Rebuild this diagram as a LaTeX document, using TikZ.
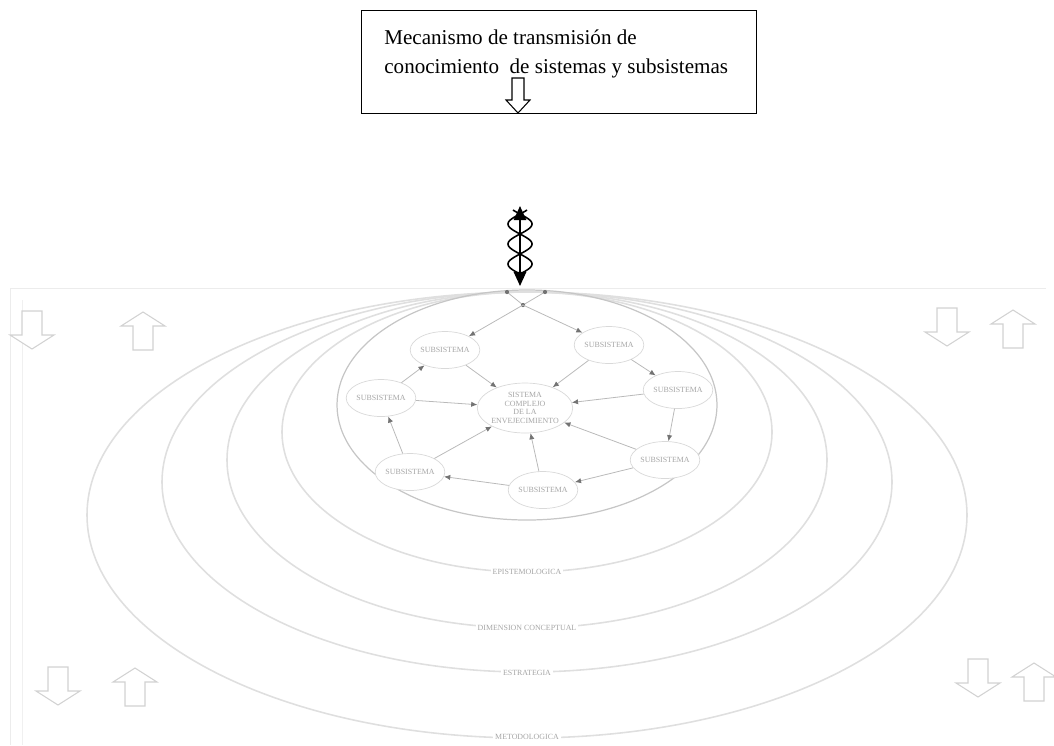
\documentclass[tikz,border=0pt]{standalone}
\usepackage{fontspec}
\setmainfont{Liberation Serif}
\usetikzlibrary{shapes.geometric,arrows.meta}

\tikzset{
  ring/.style={draw=gray!25, line width=0.9pt},
  ringlbl/.style={fill=white, inner sep=1pt, text=gray!70, font=\fontsize{4.5}{5}\selectfont},
  sub/.style={ellipse, draw=gray!30, fill=white, minimum width=1.28cm, minimum height=0.74cm,
    inner sep=0pt, align=center, text=gray!70, font=\fontsize{4.5}{5}\selectfont},
  flow/.style={draw=gray!55, line width=0.45pt, -{Latex[length=3.5pt,width=3pt,color=gray!90!black]}},
  hollow/.style={draw=gray!35, fill=white, line width=0.6pt},
  downarrow/.pic={\draw[hollow] (-10,-19) -- (10,-19) -- (10,5) -- (22,5) -- (0,19) -- (-22,5) -- (-10,5) -- cycle;},
  uparrow/.pic={\draw[hollow] (-10,19) -- (10,19) -- (10,-5) -- (22,-5) -- (0,-19) -- (-22,-5) -- (-10,-5) -- cycle;}
}

\begin{document}
\begin{tikzpicture}[x=0.02cm, y=-0.02cm]
  \useasboundingbox (0,0) rectangle (1054,745);

  \node[draw, line width=0.8pt, minimum width=7.9cm, minimum height=2.06cm, anchor=north west] (mech) at (361,10) {};
  \node[anchor=north west, align=left, inner sep=0pt, font=\fontsize{12}{16.5}\selectfont] (mechtext) at (384,29)
    {Mecanismo de transmisión de\\conocimiento\ \ de sistemas y subsistemas};
  \draw[line width=0.6pt, fill=white] (512,78) -- (524,78) -- (524,100) -- (530,100) -- (518,113) -- (506,100) -- (512,100) -- cycle;

  \coordinate (dnatop) at (520,206);
  \coordinate (dnabot) at (520,286);
  \draw[line width=1pt, {Triangle[length=8pt,width=7pt]}-{Triangle[length=8pt,width=7pt]}] (dnatop) -- (dnabot);
  \draw[line width=0.9pt, domain=-4:62, samples=90, smooth] plot ({520+12*sin(9*\x)},{214+\x});
  \draw[line width=0.9pt, domain=-4:62, samples=90, smooth] plot ({520-12*sin(9*\x)},{214+\x});

  \draw[draw=gray!15] (1046,288) -- (10,288) -- (10,745);
  \draw[draw=gray!12] (22,300) -- (22,745);

  \draw[ring] (527,515) ellipse [x radius=440, y radius=223];
  \draw[ring] (527,482) ellipse [x radius=365, y radius=190];
  \draw[ring] (527,460) ellipse [x radius=300, y radius=168];
  \draw[ring] (527,432) ellipse [x radius=245, y radius=140];
  \draw[draw=gray!45, line width=0.7pt] (527,405) ellipse [x radius=190, y radius=115];

  \node[ringlbl] (lbl1) at (527,572) {EPISTEMOLOGICA};
  \node[ringlbl] (lbl2) at (527,628) {DIMENSION CONCEPTUAL};
  \node[ringlbl] (lbl3) at (527,673) {ESTRATEGIA};
  \node[ringlbl] (lbl4) at (527,737) {METODOLOGICA};

  \pic at (32,330) {downarrow};
  \pic at (143,331) {uparrow};
  \pic at (947,327) {downarrow};
  \pic at (1013,329) {uparrow};
  \pic at (58,686) {downarrow};
  \pic at (135,687) {uparrow};
  \pic at (978,678) {downarrow};
  \pic at (1034,682) {uparrow};

  \node[sub] (s1) at (445,350) {SUBSISTEMA};
  \node[sub] (s2) at (609,345) {SUBSISTEMA};
  \node[sub] (s3) at (678,390) {SUBSISTEMA};
  \node[sub] (s4) at (381,398) {SUBSISTEMA};
  \node[sub, minimum width=1.8cm, minimum height=1cm] (core) at (525,408) {SISTEMA\\COMPLEJO\\DE LA\\ENVEJECIMIENTO};
  \node[sub] (s5) at (410,472) {SUBSISTEMA};
  \node[sub] (s6) at (543,490) {SUBSISTEMA};
  \node[sub] (s7) at (665,460) {SUBSISTEMA};

  \coordinate (hl) at (507,292);
  \coordinate (hr) at (545,292);
  \coordinate (hub) at (523,305);
  \draw[draw=gray!55, line width=0.45pt] (hl) -- (hub) -- (hr);
  \fill[gray!90!black] (hl) circle (1.2pt) (hr) circle (1.2pt) (hub) circle (1.2pt);

  \draw[flow] (hub) -- (s1);
  \draw[flow] (hub) -- (s2);
  \draw[flow] (s2) -- (s3);
  \draw[flow] (s3) -- (s7);
  \draw[flow] (s7) -- (s6);
  \draw[flow] (s6) -- (s5);
  \draw[flow] (s5) -- (s4);
  \draw[flow] (s4) -- (s1);
  \draw[flow] (s1) -- (core);
  \draw[flow] (s2) -- (core);
  \draw[flow] (s3) -- (core);
  \draw[flow] (s4) -- (core);
  \draw[flow] (s5) -- (core);
  \draw[flow] (s6) -- (core);
  \draw[flow] (s7) -- (core);
\end{tikzpicture}
\end{document}
